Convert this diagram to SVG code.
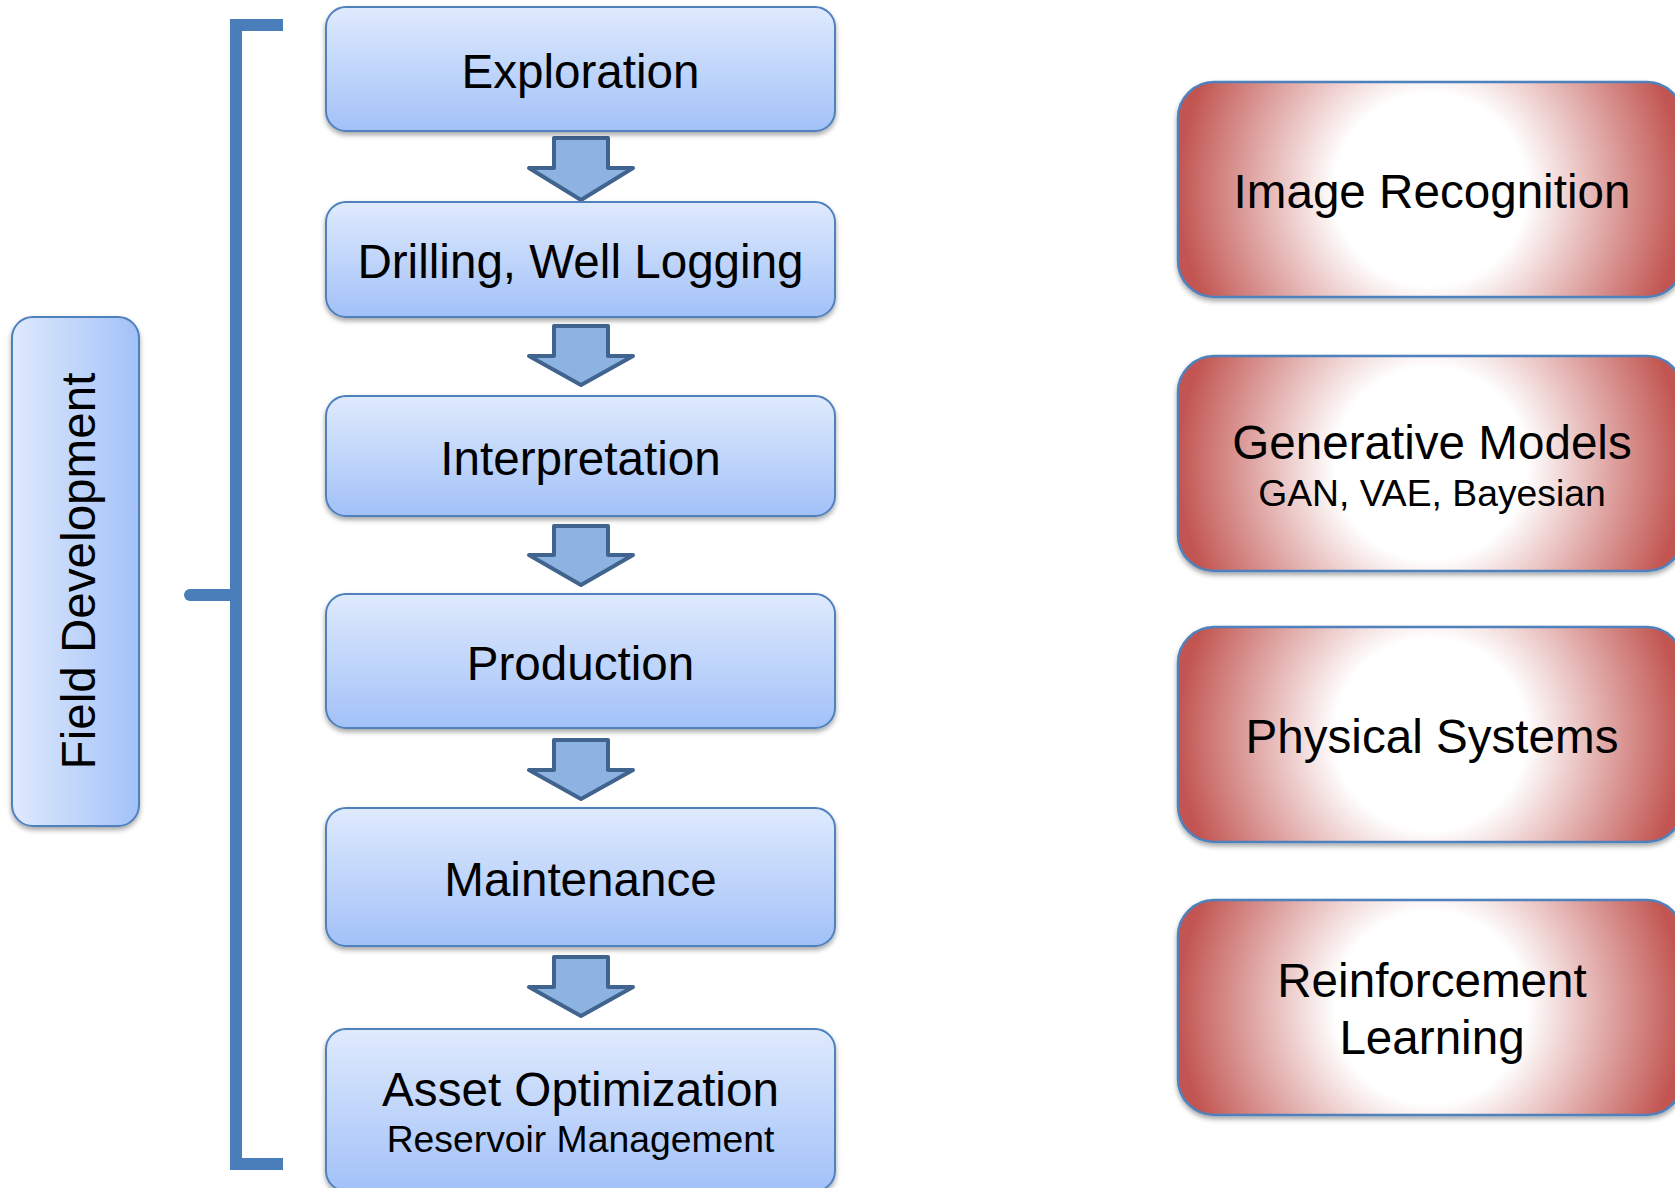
<svg xmlns="http://www.w3.org/2000/svg" width="1675" height="1188" viewBox="0 0 1675 1188">
  <defs>
    <linearGradient id="blueV" x1="0" y1="0" x2="0" y2="1">
      <stop offset="0" stop-color="#DFEAFD"/>
      <stop offset="1" stop-color="#A2C1F8"/>
    </linearGradient>
    <linearGradient id="blueH" x1="0" y1="0" x2="1" y2="0">
      <stop offset="0" stop-color="#DFEAFD"/>
      <stop offset="1" stop-color="#A2C1F8"/>
    </linearGradient>
    <radialGradient id="redGlow" cx="0.5" cy="0.5" r="0.5" gradientTransform="translate(0.5 0.5) scale(1 2.35) translate(-0.5 -0.5)">
      <stop offset="0" stop-color="#FFFFFF"/>
      <stop offset="0.38" stop-color="#FFFFFF"/>
      <stop offset="1" stop-color="#C25551"/>
    </radialGradient>
    <filter id="shadow" x="-10%" y="-10%" width="120%" height="130%">
      <feDropShadow dx="0" dy="3" stdDeviation="2.5" flood-color="#000" flood-opacity="0.35"/>
    </filter>
    <style>
      .flow { fill: url(#blueV); stroke: #4F81BD; stroke-width: 2; filter: url(#shadow); }
      .side { fill: url(#blueH); stroke: #4F81BD; stroke-width: 2; filter: url(#shadow); }
      .tech { fill: url(#redGlow); stroke: #4F81BD; stroke-width: 2.5; filter: url(#shadow); }
      .arrow { fill: #8DB3E2; stroke: #41648F; stroke-width: 4; stroke-linejoin: round; }
      .bracket { fill: none; stroke: #4A7EBB; stroke-width: 12; }
      text { font-family: "Liberation Sans", Arial, sans-serif; fill: #000; text-anchor: middle; }
      .big { font-size: 47.6px; }
      .small { font-size: 37.3px; }
    </style>
  </defs>

  <!-- bracket grouping the field development stages, plus the block arrows -->
  <g id="connectors">
    <path class="bracket" d="M283 25 H236 V1164 H283" stroke-linejoin="miter"/>
    <path class="bracket" d="M190 595 H236" stroke-linecap="round"/>
    <path class="arrow" d="M554 138 H608 V168 H633 L581 200 L529 168 H554 Z"/>
    <path class="arrow" d="M554 326 H608 V356 H633 L581 385 L529 356 H554 Z"/>
    <path class="arrow" d="M554 526 H608 V555 H633 L581 585 L529 555 H554 Z"/>
    <path class="arrow" d="M554 740 H608 V770 H633 L581 799 L529 770 H554 Z"/>
    <path class="arrow" d="M554 957 H608 V987 H633 L581 1016 L529 987 H554 Z"/>
  </g>

  <g id="field-development">
    <rect class="side" x="12" y="317" width="127" height="509" rx="21"/>
    <text class="big" transform="translate(95 571) rotate(-90)">Field Development</text>
  </g>

  <g id="exploration">
    <rect class="flow" x="326" y="7" width="509" height="124" rx="20"/>
    <text class="big" x="580.5" y="88">Exploration</text>
  </g>
  <g id="drilling">
    <rect class="flow" x="326" y="202" width="509" height="115" rx="20"/>
    <text class="big" x="580.5" y="278">Drilling, Well Logging</text>
  </g>
  <g id="interpretation">
    <rect class="flow" x="326" y="396" width="509" height="120" rx="20"/>
    <text class="big" x="580.5" y="475">Interpretation</text>
  </g>
  <g id="production">
    <rect class="flow" x="326" y="594" width="509" height="134" rx="20"/>
    <text class="big" x="580.5" y="680">Production</text>
  </g>
  <g id="maintenance">
    <rect class="flow" x="326" y="808" width="509" height="138" rx="20"/>
    <text class="big" x="580.5" y="896">Maintenance</text>
  </g>
  <g id="asset-optimization">
    <rect class="flow" x="326" y="1029" width="509" height="162" rx="20"/>
    <text class="big" x="580.5" y="1106">Asset Optimization</text>
    <text class="small" x="580.5" y="1152">Reservoir Management</text>
  </g>

  <g id="image-recognition">
    <rect class="tech" x="1178" y="82" width="505" height="215" rx="36"/>
    <text class="big" x="1432" y="208">Image Recognition</text>
  </g>
  <g id="generative-models">
    <rect class="tech" x="1178" y="356" width="505" height="215" rx="36"/>
    <text class="big" x="1432" y="459">Generative Models</text>
    <text class="small" x="1432" y="506">GAN, VAE, Bayesian</text>
  </g>
  <g id="physical-systems">
    <rect class="tech" x="1178" y="627" width="505" height="215" rx="36"/>
    <text class="big" x="1432" y="753">Physical Systems</text>
  </g>
  <g id="reinforcement-learning">
    <rect class="tech" x="1178" y="900" width="505" height="215" rx="36"/>
    <text class="big" x="1432" y="997">Reinforcement</text>
    <text class="big" x="1432" y="1054">Learning</text>
  </g>
</svg>
